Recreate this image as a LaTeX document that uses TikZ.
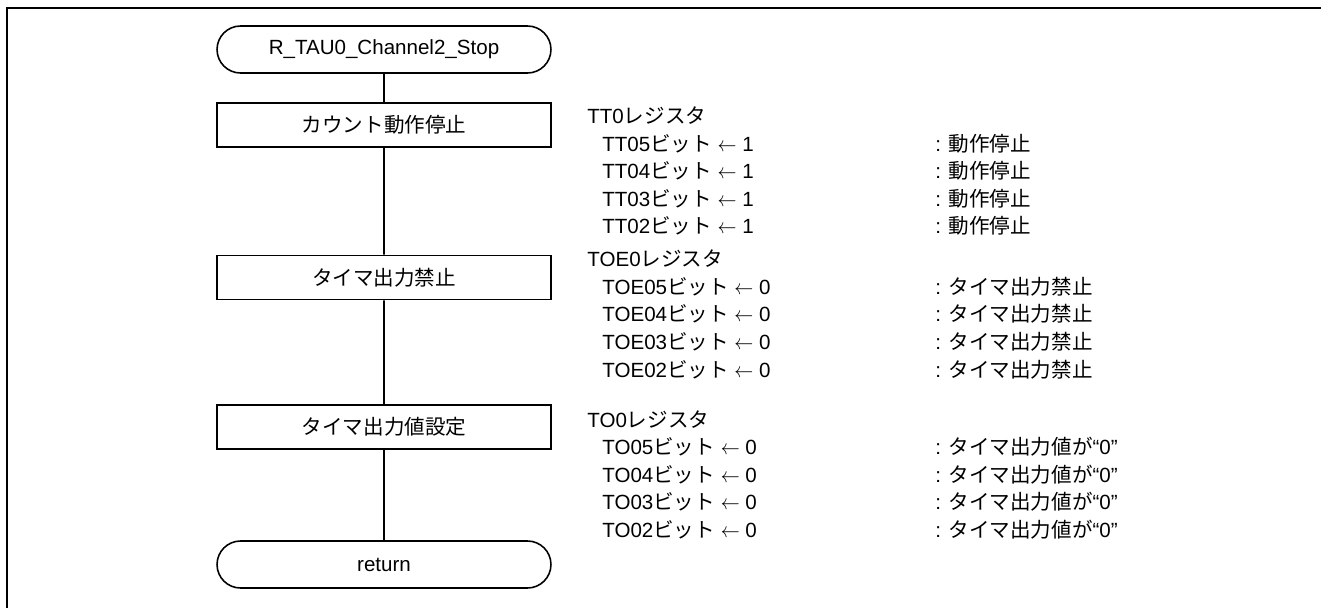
\documentclass[tikz,border=0pt]{standalone}
\usepackage{fontspec}
\setmainfont{Liberation Sans}
\newfontfamily\jpfont{Noto Sans CJK JP}
\newcommand{\jp}[1]{{\jpfont #1}}
\newcommand{\setto}{\scalebox{0.9}[1]{$\leftarrow$}}
\usetikzlibrary{shapes.misc,positioning}

\tikzset{
  terminal/.style={rounded rectangle, draw, line width=0.9pt, minimum width=6.68cm, minimum height=0.94cm, inner sep=0pt},
  procbox/.style={rectangle, draw, line width=0.9pt, minimum width=6.68cm, minimum height=0.88cm, inner sep=0pt},
  regtext/.style={anchor=west, inner sep=0pt, text height=1.38ex, text depth=0pt},
}

\begin{document}
\begin{tikzpicture}[x=0.02cm, y=-0.02cm, font=\fontsize{11.7}{14}\selectfont]
  \useasboundingbox (0,0) rectangle (1321,608);
  % outer frame (only top and left edges fall inside)
  \draw[line width=1.7pt] (1340,8) -- (7,8) -- (7,630);

  % flow
  \node[terminal] (start) at (384,49.5) {R\_TAU0\_Channel2\_Stop};
  \node[procbox] (cnt) at (384,125) {\jp{カウント動作停止}};
  \node[procbox] (toe) at (384,277.5) {\jp{タイマ出力禁止}};
  \node[procbox] (tov) at (384,427) {\jp{タイマ出力値設定}};
  \node[terminal] (ret) at (384,564.5) {return};

  \draw[line width=0.9pt] (start) -- (cnt) -- (toe) -- (tov) -- (ret);

  % TT0 register
  \node[regtext] (tt0) at (587,117) {TT0\jp{レジスタ}};
  \node[regtext] (tt05) at (602,145) {TT05\jp{ビット} \setto{} 1};
  \node[regtext] (tt04) at (602,172) {TT04\jp{ビット} \setto{} 1};
  \node[regtext] (tt03) at (602,200) {TT03\jp{ビット} \setto{} 1};
  \node[regtext] (tt02) at (602,227) {TT02\jp{ビット} \setto{} 1};
  \node[regtext] (tt05c) at (935,145) {: \jp{動作停止}};
  \node[regtext] (tt04c) at (935,172) {: \jp{動作停止}};
  \node[regtext] (tt03c) at (935,200) {: \jp{動作停止}};
  \node[regtext] (tt02c) at (935,227) {: \jp{動作停止}};

  % TOE0 register
  \node[regtext] (toe0) at (587,260) {TOE0\jp{レジスタ}};
  \node[regtext] (toe05) at (602,288) {TOE05\jp{ビット} \setto{} 0};
  \node[regtext] (toe04) at (602,315) {TOE04\jp{ビット} \setto{} 0};
  \node[regtext] (toe03) at (602,343) {TOE03\jp{ビット} \setto{} 0};
  \node[regtext] (toe02) at (602,371) {TOE02\jp{ビット} \setto{} 0};
  \node[regtext] (toe05c) at (935,288) {: \jp{タイマ出力禁止}};
  \node[regtext] (toe04c) at (935,315) {: \jp{タイマ出力禁止}};
  \node[regtext] (toe03c) at (935,343) {: \jp{タイマ出力禁止}};
  \node[regtext] (toe02c) at (935,371) {: \jp{タイマ出力禁止}};

  % TO0 register
  \node[regtext] (to0) at (587,421) {TO0\jp{レジスタ}};
  \node[regtext] (to05) at (602,448) {TO05\jp{ビット} \setto{} 0};
  \node[regtext] (to04) at (602,476) {TO04\jp{ビット} \setto{} 0};
  \node[regtext] (to03) at (602,503) {TO03\jp{ビット} \setto{} 0};
  \node[regtext] (to02) at (602,531) {TO02\jp{ビット} \setto{} 0};
  \node[regtext] (to05c) at (935,448) {: \jp{タイマ出力値が}“0”};
  \node[regtext] (to04c) at (935,476) {: \jp{タイマ出力値が}“0”};
  \node[regtext] (to03c) at (935,503) {: \jp{タイマ出力値が}“0”};
  \node[regtext] (to02c) at (935,531) {: \jp{タイマ出力値が}“0”};
\end{tikzpicture}
\end{document}
